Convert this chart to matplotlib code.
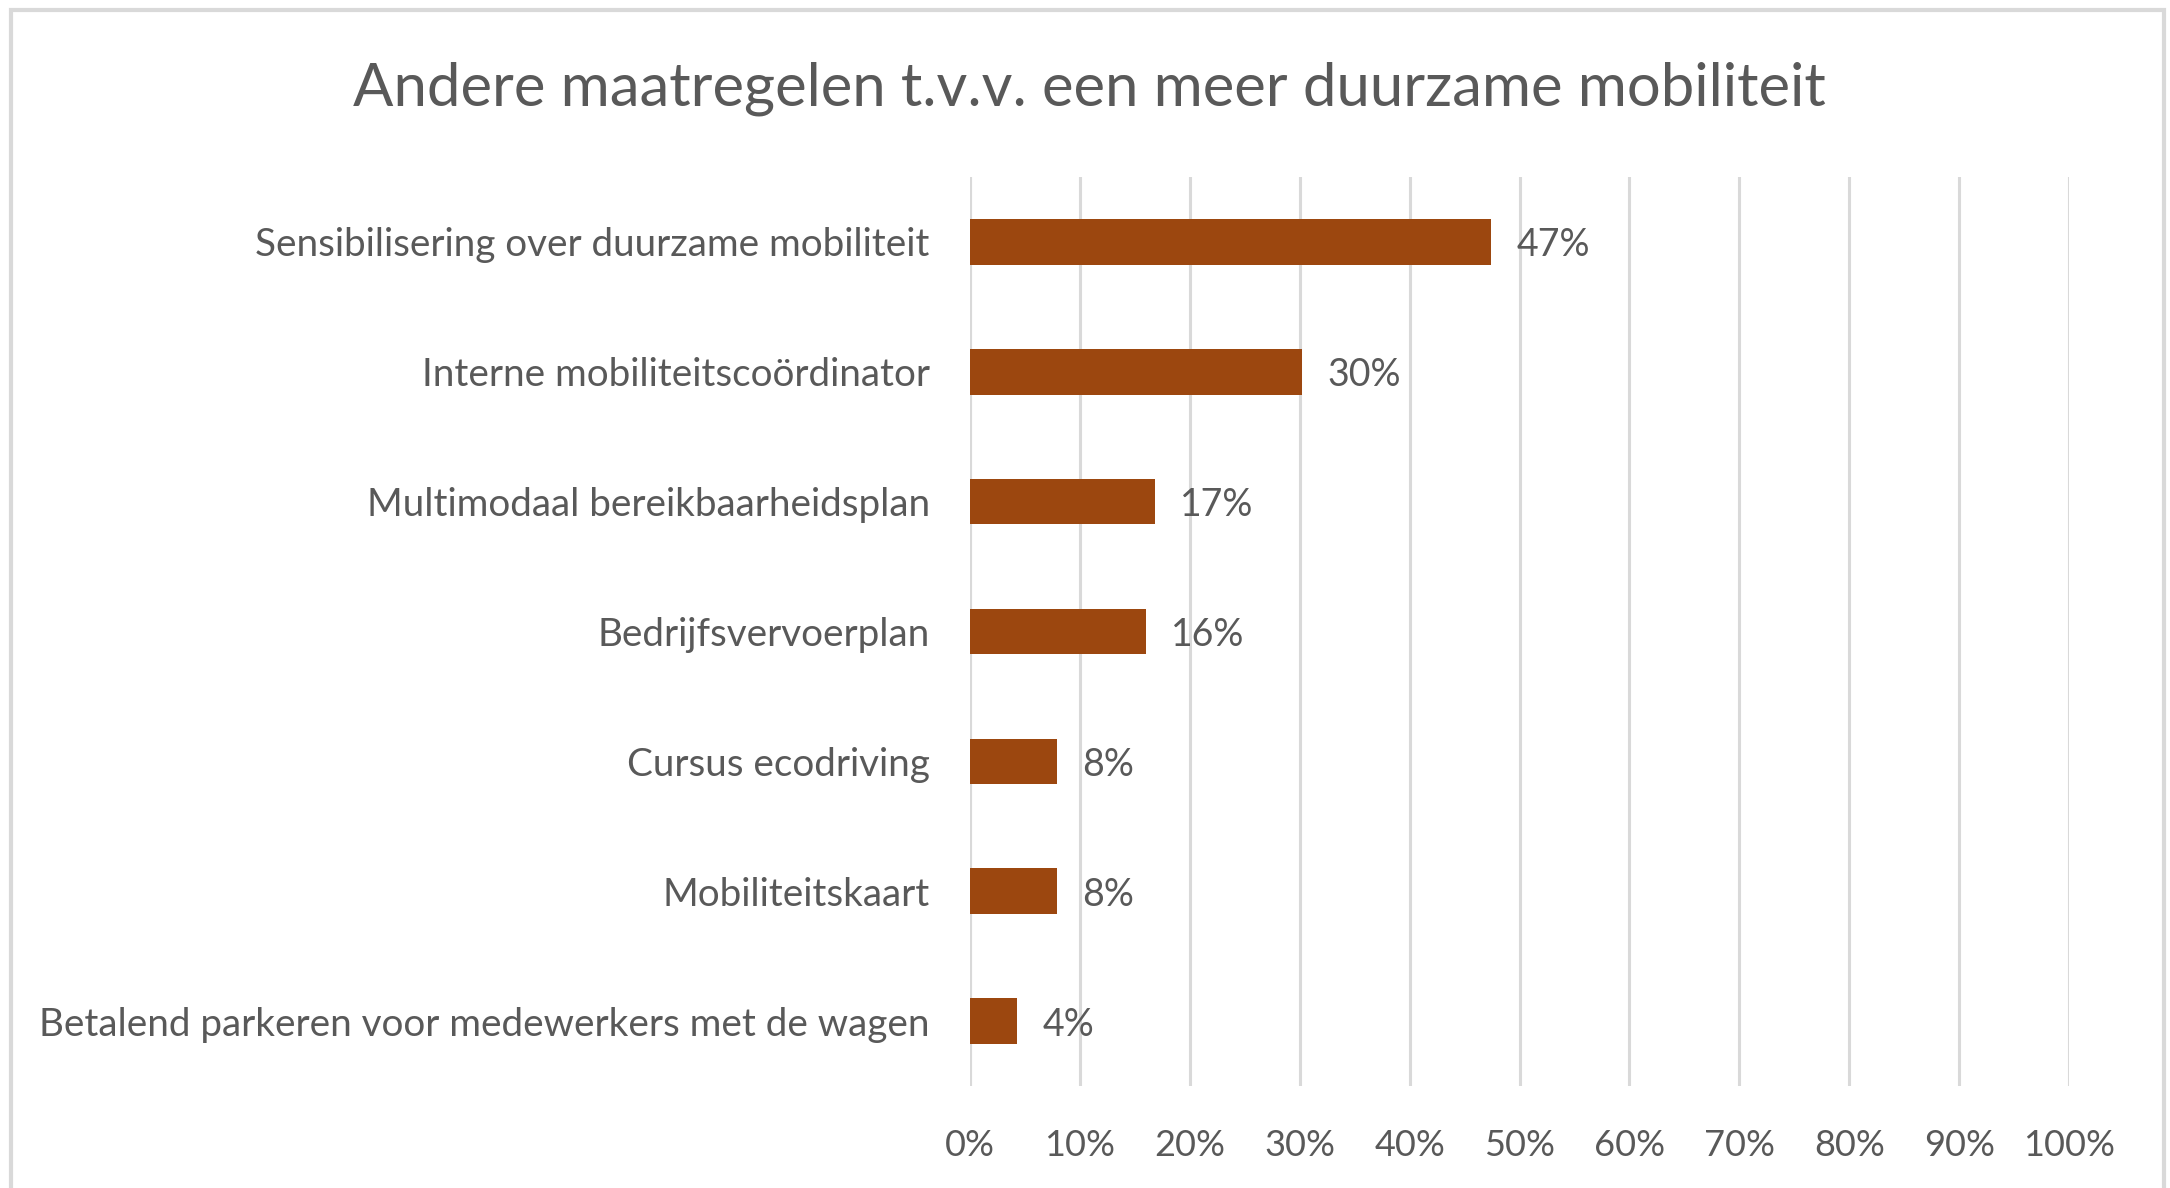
import numpy as np
import matplotlib.pyplot as plt
from matplotlib.patches import Rectangle

categories = ['Sensibilisering over duurzame mobiliteit',
              'Interne mobiliteitscoördinator',
              'Multimodaal bereikbaarheidsplan',
              'Bedrijfsvervoerplan',
              'Cursus ecodriving',
              'Mobiliteitskaart',
              'Betalend parkeren voor medewerkers met de wagen']
values = [47.4, 30.2, 16.8, 16.0, 7.9, 7.9, 4.3]
xticks = np.arange(0, 101, 10)
xticklabels = ['%d%%' % t for t in xticks]
title = 'Andere maatregelen t.v.v. een meer duurzame mobiliteit'

plt.rcParams['font.family'] = ['Lato', 'DejaVu Sans']
text_color = '#595959'
bar_color = '#9C470F'
grid_color = '#D9D9D9'

fig = plt.figure(figsize=(21.7, 11.88), dpi=100)
ax = fig.add_axes([0.447, 0.0859, 0.5065, 0.7651])

y = np.arange(len(categories))
ax.barh(y, values, height=0.35, color=bar_color, zorder=3)
for yi, v in zip(y, values):
    ax.text(v + 2.3, yi, '%d%%' % round(v), va='center_baseline', ha='left',
            fontsize=27, color=text_color)

ax.set_xlim(0, 100)
ax.set_ylim(len(categories) - 0.5, -0.5)
ax.set_yticks(y)
ax.set_yticklabels(categories, fontsize=27.8, color=text_color)
ax.set_xticks(xticks)
ax.set_xticklabels(xticklabels, fontsize=26, color=text_color)
ax.tick_params(axis='y', length=0, pad=29)
ax.tick_params(axis='x', length=0, pad=31)
ax.xaxis.grid(True, color=grid_color, linewidth=2.2, zorder=0)
for s in ax.spines.values():
    s.set_visible(False)
ax.axvline(0, color=grid_color, linewidth=2.2, zorder=1)

fig.text(0.502, 0.925, title, ha='center', va='center', fontsize=43, color=text_color)

fig.patches.append(Rectangle((11 / 2170, -0.02), (2164 - 11) / 2170, 1.02 - 10 / 1188,
                             transform=fig.transFigure, fill=False,
                             edgecolor=grid_color, linewidth=3))

plt.savefig('out.png', dpi=100)
